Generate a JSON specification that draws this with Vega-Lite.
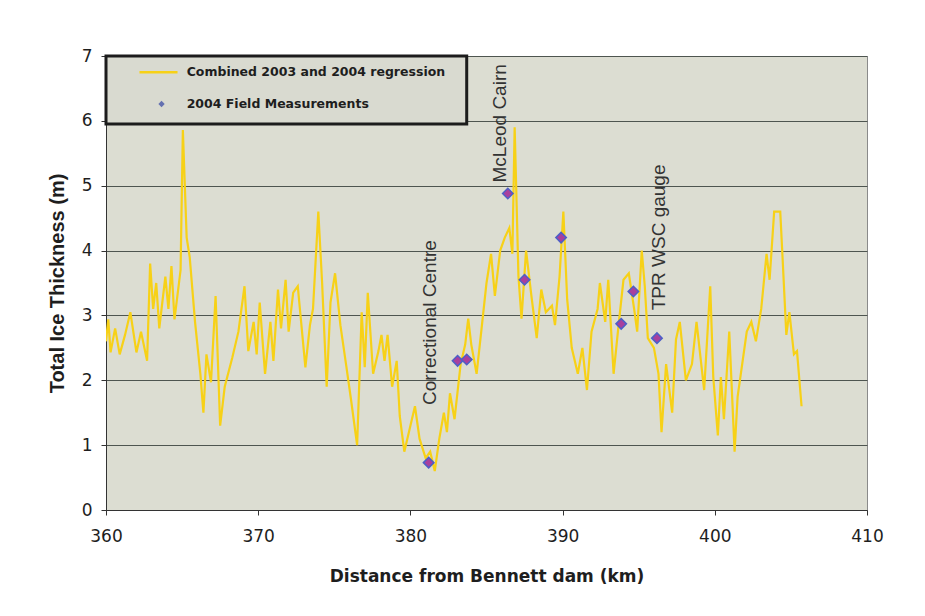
{
  "$schema": "https://vega.github.io/schema/vega-lite/v6.json",
  "autosize": "none",
  "width": 761,
  "height": 454,
  "padding": {"left": 106, "top": 56, "right": 58, "bottom": 106},
  "background": "white",
  "config": {
    "view": {"fill": "#dcddd2", "stroke": "#8a8a8a", "strokeWidth": 1},
    "axis": {"labelFont": "DejaVu Sans", "labelColor": "#1e1e1e", "titleColor": "#1e1e1e", "domainColor": "#333333", "tickColor": "#333333", "labelFlush": false}
  },
  "datasets": {
    "regression": [
      {"km": 360.0, "t": 2.6}, {"km": 360.15, "t": 2.94}, {"km": 360.3, "t": 2.43}, {"km": 360.6, "t": 2.8},
      {"km": 360.9, "t": 2.4}, {"km": 361.25, "t": 2.7}, {"km": 361.6, "t": 3.05}, {"km": 362.0, "t": 2.43},
      {"km": 362.3, "t": 2.75}, {"km": 362.7, "t": 2.3}, {"km": 362.9, "t": 3.8}, {"km": 363.1, "t": 3.1},
      {"km": 363.3, "t": 3.5}, {"km": 363.5, "t": 2.8}, {"km": 363.9, "t": 3.6}, {"km": 364.1, "t": 3.1},
      {"km": 364.3, "t": 3.76}, {"km": 364.5, "t": 2.94}, {"km": 364.9, "t": 3.7}, {"km": 365.05, "t": 5.86},
      {"km": 365.3, "t": 4.2}, {"km": 365.5, "t": 3.9}, {"km": 365.85, "t": 2.9}, {"km": 366.2, "t": 2.1},
      {"km": 366.4, "t": 1.5}, {"km": 366.6, "t": 2.4}, {"km": 366.9, "t": 1.97}, {"km": 367.2, "t": 3.3},
      {"km": 367.5, "t": 1.3}, {"km": 367.8, "t": 1.9}, {"km": 368.3, "t": 2.35}, {"km": 368.7, "t": 2.75},
      {"km": 369.1, "t": 3.45}, {"km": 369.35, "t": 2.45}, {"km": 369.7, "t": 2.9}, {"km": 369.9, "t": 2.4},
      {"km": 370.1, "t": 3.2}, {"km": 370.45, "t": 2.1}, {"km": 370.8, "t": 2.9}, {"km": 371.0, "t": 2.3},
      {"km": 371.3, "t": 3.4}, {"km": 371.5, "t": 2.8}, {"km": 371.8, "t": 3.55}, {"km": 372.0, "t": 2.75},
      {"km": 372.3, "t": 3.35}, {"km": 372.6, "t": 3.45}, {"km": 373.1, "t": 2.2}, {"km": 373.4, "t": 2.85},
      {"km": 373.6, "t": 3.1}, {"km": 373.95, "t": 4.6}, {"km": 374.2, "t": 3.5}, {"km": 374.5, "t": 1.9},
      {"km": 374.75, "t": 3.2}, {"km": 375.05, "t": 3.65}, {"km": 375.4, "t": 2.85}, {"km": 375.8, "t": 2.2},
      {"km": 376.1, "t": 1.7}, {"km": 376.5, "t": 1.0}, {"km": 376.8, "t": 3.05}, {"km": 377.0, "t": 2.2},
      {"km": 377.2, "t": 3.35}, {"km": 377.55, "t": 2.1}, {"km": 377.9, "t": 2.45}, {"km": 378.1, "t": 2.7},
      {"km": 378.3, "t": 2.3}, {"km": 378.5, "t": 2.7}, {"km": 378.8, "t": 1.9}, {"km": 379.1, "t": 2.3},
      {"km": 379.3, "t": 1.45}, {"km": 379.6, "t": 0.9}, {"km": 380.0, "t": 1.3}, {"km": 380.3, "t": 1.6},
      {"km": 380.6, "t": 1.1}, {"km": 381.0, "t": 0.8}, {"km": 381.3, "t": 0.9}, {"km": 381.6, "t": 0.6},
      {"km": 381.9, "t": 1.1}, {"km": 382.2, "t": 1.5}, {"km": 382.4, "t": 1.2}, {"km": 382.6, "t": 1.8},
      {"km": 382.9, "t": 1.4}, {"km": 383.3, "t": 2.25}, {"km": 383.6, "t": 2.55}, {"km": 383.8, "t": 2.95},
      {"km": 384.0, "t": 2.55}, {"km": 384.35, "t": 2.1}, {"km": 384.7, "t": 2.85}, {"km": 385.0, "t": 3.5},
      {"km": 385.3, "t": 3.95}, {"km": 385.55, "t": 3.3}, {"km": 385.9, "t": 4.0}, {"km": 386.2, "t": 4.2},
      {"km": 386.5, "t": 4.35}, {"km": 386.7, "t": 3.95}, {"km": 386.85, "t": 5.9}, {"km": 387.1, "t": 3.6},
      {"km": 387.3, "t": 2.95}, {"km": 387.6, "t": 4.0}, {"km": 387.95, "t": 3.3}, {"km": 388.3, "t": 2.65},
      {"km": 388.6, "t": 3.4}, {"km": 388.9, "t": 3.05}, {"km": 389.3, "t": 3.15}, {"km": 389.5, "t": 2.85},
      {"km": 389.8, "t": 3.6}, {"km": 390.05, "t": 4.6}, {"km": 390.3, "t": 3.25}, {"km": 390.6, "t": 2.5},
      {"km": 391.0, "t": 2.1}, {"km": 391.3, "t": 2.5}, {"km": 391.6, "t": 1.85}, {"km": 391.9, "t": 2.75},
      {"km": 392.3, "t": 3.1}, {"km": 392.45, "t": 3.5}, {"km": 392.8, "t": 2.9}, {"km": 393.0, "t": 3.55},
      {"km": 393.35, "t": 2.1}, {"km": 393.7, "t": 2.9}, {"km": 394.0, "t": 3.55}, {"km": 394.35, "t": 3.65},
      {"km": 394.7, "t": 3.1}, {"km": 394.9, "t": 2.75}, {"km": 395.2, "t": 4.0}, {"km": 395.4, "t": 3.45},
      {"km": 395.6, "t": 2.65}, {"km": 396.0, "t": 2.5}, {"km": 396.3, "t": 2.1}, {"km": 396.5, "t": 1.2},
      {"km": 396.8, "t": 2.25}, {"km": 397.2, "t": 1.5}, {"km": 397.45, "t": 2.63}, {"km": 397.7, "t": 2.9},
      {"km": 398.1, "t": 2.0}, {"km": 398.5, "t": 2.25}, {"km": 398.8, "t": 2.9}, {"km": 399.3, "t": 1.85},
      {"km": 399.7, "t": 3.45}, {"km": 399.9, "t": 2.05}, {"km": 400.2, "t": 1.15}, {"km": 400.4, "t": 2.05},
      {"km": 400.6, "t": 1.4}, {"km": 400.95, "t": 2.75}, {"km": 401.3, "t": 0.9}, {"km": 401.5, "t": 1.75},
      {"km": 401.8, "t": 2.25}, {"km": 402.1, "t": 2.75}, {"km": 402.4, "t": 2.9}, {"km": 402.7, "t": 2.6},
      {"km": 403.05, "t": 3.1}, {"km": 403.4, "t": 3.95}, {"km": 403.6, "t": 3.55}, {"km": 403.9, "t": 4.6},
      {"km": 404.3, "t": 4.6}, {"km": 404.45, "t": 3.9}, {"km": 404.7, "t": 2.7}, {"km": 404.9, "t": 3.05},
      {"km": 405.2, "t": 2.4}, {"km": 405.4, "t": 2.45}, {"km": 405.7, "t": 1.6}
    ],
    "field": [
      {"km": 381.2, "t": 0.73}, {"km": 383.1, "t": 2.3}, {"km": 383.7, "t": 2.32},
      {"km": 386.4, "t": 4.88}, {"km": 387.5, "t": 3.55}, {"km": 389.9, "t": 4.2},
      {"km": 393.85, "t": 2.87}, {"km": 394.65, "t": 3.37}, {"km": 396.2, "t": 2.65}
    ],
    "one": [{}]
  },
  "layer": [
    {
      "data": {"name": "regression"},
      "mark": {"type": "line", "color": "#f7d117", "strokeWidth": 2.2, "clip": true},
      "encoding": {
        "x": {"field": "km", "type": "quantitative",
          "scale": {"domain": [360, 410], "nice": false},
          "axis": {"values": [360, 370, 380, 390, 400, 410], "format": "d", "grid": false, "tickSize": 5, "labelFontSize": 17, "labelPadding": 13,
            "title": "Distance from Bennett dam (km)", "titleFont": "DejaVu Sans", "titleFontWeight": "bold", "titleFontSize": 17,
            "titleY": 66, "titleBaseline": "middle"}},
        "y": {"field": "t", "type": "quantitative",
          "scale": {"domain": [0, 7], "nice": false},
          "axis": {"values": [0, 1, 2, 3, 4, 5, 6, 7], "format": "d", "grid": true, "gridColor": "#4e5550", "gridWidth": 1, "tickSize": 5, "labelFontSize": 17, "labelPadding": 9,
            "title": "Total Ice Thickness (m)", "titleFont": "Liberation Sans", "titleFontWeight": "bold", "titleFontSize": 20,
            "titleX": -49, "titleBaseline": "middle"}}
      }
    },
    {
      "data": {"name": "field"},
      "mark": {"type": "point", "shape": "diamond", "filled": true, "size": 110, "fill": "#a83f9e", "stroke": "#4c5fc7", "strokeWidth": 1.5, "opacity": 1},
      "encoding": {
        "x": {"field": "km", "type": "quantitative"},
        "y": {"field": "t", "type": "quantitative"}
      }
    },
    {
      "data": {"name": "one"},
      "mark": {"type": "text", "text": "Correctional Centre", "angle": 270, "align": "left", "baseline": "middle", "font": "Liberation Sans", "fontSize": 19, "color": "#333333"},
      "encoding": {"x": {"datum": 381.3}, "y": {"datum": 1.62}}
    },
    {
      "data": {"name": "one"},
      "mark": {"type": "text", "text": "McLeod Cairn", "angle": 270, "align": "left", "baseline": "middle", "font": "Liberation Sans", "fontSize": 19, "color": "#333333"},
      "encoding": {"x": {"datum": 385.9}, "y": {"datum": 5.05}}
    },
    {
      "data": {"name": "one"},
      "mark": {"type": "text", "text": "TPR WSC gauge", "angle": 270, "align": "left", "baseline": "middle", "font": "Liberation Sans", "fontSize": 19, "color": "#333333"},
      "encoding": {"x": {"datum": 396.35}, "y": {"datum": 3.08}}
    },
    {
      "data": {"name": "one"},
      "mark": {"type": "rect", "fill": "#d9dad0", "stroke": "#1c1c1c", "strokeWidth": 3},
      "encoding": {"x": {"datum": 360}, "x2": {"datum": 383.7}, "y": {"datum": 7.0}, "y2": {"datum": 5.95}}
    },
    {
      "data": {"name": "one"},
      "mark": {"type": "rule", "color": "#f7d117", "strokeWidth": 2.5},
      "encoding": {"x": {"datum": 362.2}, "x2": {"datum": 364.7}, "y": {"datum": 6.75}}
    },
    {
      "data": {"name": "one"},
      "mark": {"type": "point", "shape": "diamond", "filled": true, "size": 40, "fill": "#6470b0", "opacity": 1},
      "encoding": {"x": {"datum": 363.65}, "y": {"datum": 6.26}}
    },
    {
      "data": {"name": "one"},
      "mark": {"type": "text", "text": "Combined 2003 and 2004 regression", "align": "left", "baseline": "middle", "font": "DejaVu Sans", "fontWeight": "bold", "fontSize": 12.5, "color": "#1e1e1e"},
      "encoding": {"x": {"datum": 365.3}, "y": {"datum": 6.75}}
    },
    {
      "data": {"name": "one"},
      "mark": {"type": "text", "text": "2004 Field Measurements", "align": "left", "baseline": "middle", "font": "DejaVu Sans", "fontWeight": "bold", "fontSize": 12.5, "color": "#1e1e1e"},
      "encoding": {"x": {"datum": 365.3}, "y": {"datum": 6.26}}
    }
  ]
}
